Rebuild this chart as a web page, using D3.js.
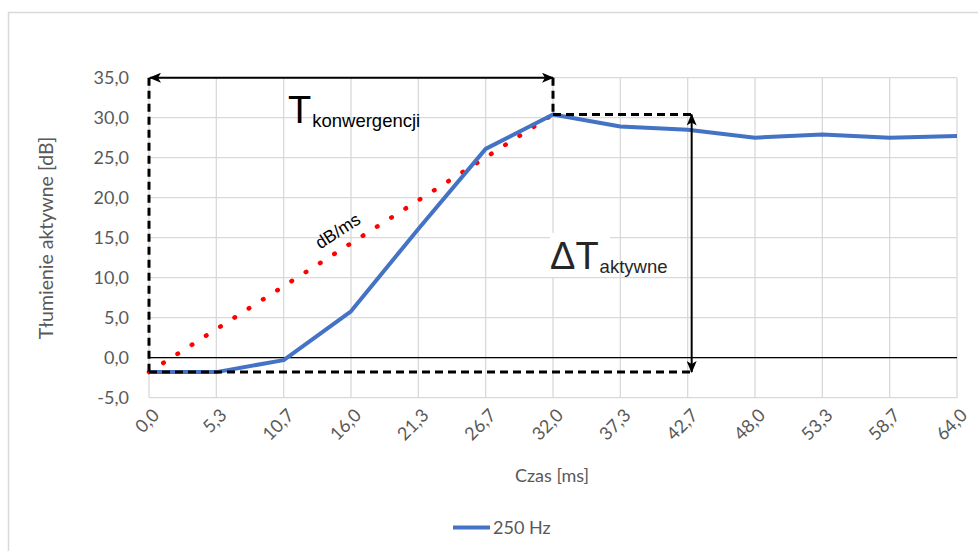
<!DOCTYPE html>
<html>
<head>
<meta charset="utf-8">
<script src="https://cdn.jsdelivr.net/npm/d3@7"></script>
<style>
  html, body { margin: 0; padding: 0; background: #fff; }
  svg { display: block; }
</style>
</head>
<body>
<svg id="chart" width="978" height="551"></svg>
<script>
// Czas [ms] – category labels of the horizontal axis
const czasLabels = ["0,0", "5,3", "10,7", "16,0", "21,3", "26,7", "32,0",
                    "37,3", "42,7", "48,0", "53,3", "58,7", "64,0"];
// Tłumienie aktywne [dB] for the 250 Hz series
const tlumienie250 = [-1.8, -1.8, -0.3, 5.8, 16.1, 26.1, 30.4,
                      28.9, 28.5, 27.5, 27.9, 27.5, 27.7];
// Y-axis ticks
const yTicks = [-5, 0, 5, 10, 15, 20, 25, 30, 35];
// Annotation anchors: convergence start / end / settling
const startLabel = "0,0";
const peakLabel = "32,0";
const deltaLabel = "42,7";
const startValue = -1.8;
const peakValue = 30.4;

const svg = d3.select("#chart");
const tickFont = "Lato, 'Open Sans', sans-serif";
const annFont = "'Liberation Sans', Arial, sans-serif";

const x = d3.scalePoint().domain(czasLabels).range([149, 957]);
const y = d3.scaleLinear().domain([-5, 35]).range([397.7, 77.7]);
const [xMin, xMax] = x.range();

// chart frame
svg.append("rect")
  .attr("x", 8.5).attr("y", 12.5).attr("width", 1000).attr("height", 600)
  .attr("fill", "#fff").attr("stroke", "#d9d9d9").attr("stroke-width", 1.5);

// gridlines
const grid = svg.append("g");
grid.selectAll("line.h").data(yTicks).join("line")
  .attr("x1", xMin).attr("x2", xMax)
  .attr("y1", d => y(d)).attr("y2", d => y(d))
  .attr("stroke", "#d9d9d9").attr("stroke-width", 1.3);
grid.selectAll("line.v").data(czasLabels).join("line")
  .attr("x1", d => x(d)).attr("x2", d => x(d))
  .attr("y1", y(35)).attr("y2", y(-5))
  .attr("stroke", "#d9d9d9").attr("stroke-width", 1.3);

// zero line (category axis)
svg.append("line")
  .attr("x1", xMin).attr("x2", xMax)
  .attr("y1", y(0)).attr("y2", y(0))
  .attr("stroke", "#000").attr("stroke-width", 1.2);

// y tick labels
svg.append("g").selectAll("text").data(yTicks).join("text")
  .attr("x", 129).attr("y", d => y(d)).attr("dy", "0.35em")
  .attr("text-anchor", "end")
  .attr("font-family", tickFont).attr("font-size", 18).attr("fill", "#595959")
  .text(d => d3.format(".1f")(d).replace(".", ",").replace("−", "-"));

// x tick labels, rotated
svg.append("g").selectAll("text").data(czasLabels).join("text")
  .attr("transform", d => `translate(${x(d) + 7},${412}) rotate(-45)`)
  .attr("text-anchor", "end").attr("dy", "0.35em")
  .attr("font-family", tickFont).attr("font-size", 18).attr("fill", "#595959")
  .text(d => d);

// axis titles
svg.append("text")
  .attr("x", 552).attr("y", 482).attr("text-anchor", "middle")
  .attr("font-family", tickFont).attr("font-size", 18).attr("fill", "#595959")
  .text("Czas [ms]");
svg.append("text")
  .attr("transform", "translate(53,238) rotate(-90)")
  .attr("text-anchor", "middle")
  .attr("font-family", tickFont).attr("font-size", 19.5).attr("fill", "#595959")
  .text("Tłumienie aktywne [dB]");

// label box behind ΔT
svg.append("rect")
  .attr("x", 550).attr("y", 233).attr("width", 60).attr("height", 44)
  .attr("fill", "#fff");

// red dotted slope line (dB/ms)
const iStart = czasLabels.indexOf(startLabel);
const iPeak = czasLabels.indexOf(peakLabel);
svg.append("line")
  .attr("x1", x(startLabel)).attr("y1", y(tlumienie250[iStart]))
  .attr("x2", x(peakLabel)).attr("y2", y(tlumienie250[iPeak]))
  .attr("stroke", "#ff0000").attr("stroke-width", 4.5)
  .attr("stroke-linecap", "round").attr("stroke-dasharray", "0.6 16.3");

// 250 Hz series
const line = d3.line().x((d, i) => x(czasLabels[i])).y(d => y(d));
svg.append("path")
  .datum(tlumienie250)
  .attr("d", line)
  .attr("fill", "none").attr("stroke", "#4472c4").attr("stroke-width", 4)
  .attr("stroke-linejoin", "round");

// arrow heads
const defs = svg.append("defs");
defs.append("marker")
  .attr("id", "arrow").attr("viewBox", "0 0 12 10")
  .attr("refX", 11).attr("refY", 5)
  .attr("markerWidth", 12).attr("markerHeight", 10)
  .attr("markerUnits", "userSpaceOnUse")
  .attr("orient", "auto-start-reverse")
  .append("path").attr("d", "M0,0 L12,5 L0,10 L3,5 Z").attr("fill", "#000");

// dashed guides
const xs = x(startLabel), xp = x(peakLabel), xd = x(deltaLabel) + 4;
const dashed = svg.append("g")
  .attr("stroke", "#000").attr("stroke-width", 3)
  .attr("stroke-dasharray", "8 5").attr("fill", "none");
dashed.append("line").attr("x1", xs).attr("x2", xs).attr("y1", y(35)).attr("y2", y(startValue));
dashed.append("line").attr("x1", xs).attr("x2", xd).attr("y1", y(startValue)).attr("y2", y(startValue));
dashed.append("line").attr("x1", xp).attr("x2", xp).attr("y1", y(35)).attr("y2", y(peakValue));
dashed.append("line").attr("x1", xp).attr("x2", xd).attr("y1", y(peakValue)).attr("y2", y(peakValue));

// double arrows
svg.append("line")
  .attr("x1", xs + 1).attr("x2", xp).attr("y1", y(35)).attr("y2", y(35))
  .attr("stroke", "#000").attr("stroke-width", 2)
  .attr("marker-start", "url(#arrow)").attr("marker-end", "url(#arrow)");
svg.append("line")
  .attr("x1", xd).attr("x2", xd).attr("y1", y(peakValue)).attr("y2", y(startValue))
  .attr("stroke", "#000").attr("stroke-width", 2)
  .attr("marker-start", "url(#arrow)").attr("marker-end", "url(#arrow)");

// annotation texts
const tk = svg.append("text")
  .attr("x", 288).attr("y", 123)
  .attr("font-family", annFont).attr("fill", "#000");
tk.append("tspan").attr("font-size", 38).text("T");
tk.append("tspan").attr("font-size", 18.5).attr("dx", 1).attr("dy", 4).text("konwergencji");

const dt = svg.append("text")
  .attr("x", 550).attr("y", 269)
  .attr("font-family", annFont).attr("fill", "#262626");
dt.append("tspan").attr("font-size", 38).text("ΔT");
dt.append("tspan").attr("font-size", 18.5).attr("dx", 1).attr("dy", 4).text("aktywne");

svg.append("text")
  .attr("transform", "translate(341,236) rotate(-33)")
  .attr("text-anchor", "middle")
  .attr("font-family", annFont).attr("font-size", 17.5).attr("fill", "#000")
  .text("dB/ms");

// legend
const lg = svg.append("g");
lg.append("line").attr("x1", 453).attr("x2", 490).attr("y1", 527.5).attr("y2", 527.5)
  .attr("stroke", "#4472c4").attr("stroke-width", 4);
lg.append("text").attr("x", 493).attr("y", 533.5)
  .attr("font-family", tickFont).attr("font-size", 18).attr("fill", "#595959")
  .text("250 Hz");
</script>
</body>
</html>
